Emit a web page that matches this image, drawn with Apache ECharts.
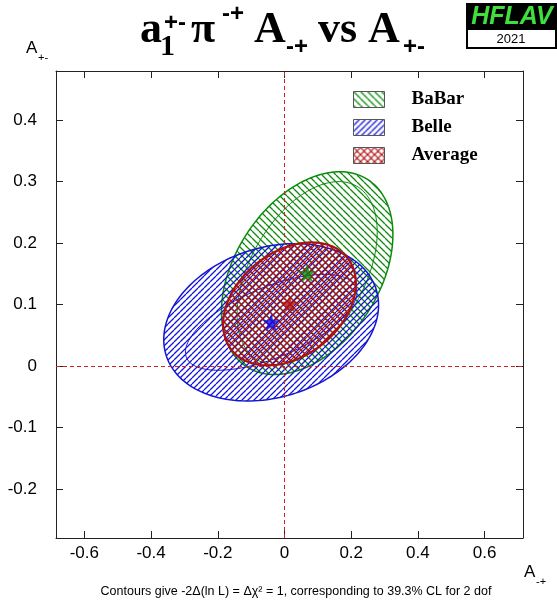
<!DOCTYPE html>
<html><head><meta charset="utf-8">
<script src="https://cdn.jsdelivr.net/npm/echarts@6/dist/echarts.min.js"></script>
<style>html,body{margin:0;padding:0;background:#fff}#c{width:557px;height:604px}</style>
</head><body><div id="c"></div>
<script>
// ---- data ----
const experiments = ['BaBar', 'Belle', 'Average'];
const centerX = [0.068, -0.040, 0.015];      // A_-+
const centerY = [0.151, 0.071, 0.101];       // A_+-
const outerSigmaX = [0.257, 0.322, 0.199];
const outerSigmaY = [0.165, 0.128, 0.100];
const outerRho = [0.38, 0.22, 0.33];
const innerSigmaX = [0.210, 0.257, null];
const innerSigmaY = [0.149, 0.078, null];
const innerRho = [0.45, 0.62, null];
const xTicks = [-0.6, -0.4, -0.2, 0, 0.2, 0.4, 0.6];
const yTicks = [-0.2, -0.1, 0, 0.1, 0.2, 0.3, 0.4];

// ---- styles ----
const lineColors = ['#0b8a0b', '#1414d4', '#b01010'];
const starColors = ['#0b8a0b', '#0a0af0', '#b01010'];
const hatchDirs = [['\\'], ['/'], ['/', '\\']];
const hatchSize = [7, 6, 7];
const hatchWidth = [1.3, 1.3, 1.2];
const outerWidth = [1.5, 1.5, 2.2];

function hatch(color, size, dirs, lw) {
  const c = document.createElement('canvas');
  c.width = c.height = size;
  const g = c.getContext('2d');
  g.strokeStyle = color; g.lineWidth = lw;
  g.beginPath();
  dirs.forEach(d => {
    for (let k = -1; k <= 1; k++) {
      if (d === '/') { g.moveTo(k * size, size); g.lineTo(k * size + size, 0); }
      else { g.moveTo(k * size, 0); g.lineTo(k * size + size, size); }
    }
  });
  g.stroke();
  return { image: c, repeat: 'repeat' };
}

function ellipsePts(api, cx, cy, sx, sy, rho) {
  const pts = [];
  const n = 160;
  const s = Math.sqrt(1 - rho * rho);
  for (let i = 0; i < n; i++) {
    const t = 2 * Math.PI * i / n;
    const x = cx + sx * Math.cos(t);
    const y = cy + sy * (rho * Math.cos(t) + s * Math.sin(t));
    pts.push(api.coord([x, y]));
  }
  return pts;
}

const font = 'Liberation Sans';
const serif = 'Liberation Serif';

const series = [];
experiments.forEach((name, i) => {
  const pattern = hatch(lineColors[i], hatchSize[i], hatchDirs[i], hatchWidth[i]);
  series.push({
    name: name,
    type: 'custom',
    coordinateSystem: 'cartesian2d',
    silent: true,
    itemStyle: { color: pattern, borderColor: '#555', borderWidth: 1 },
    encode: { x: 0, y: 1 },
    data: [[centerX[i], centerY[i], outerSigmaX[i], outerSigmaY[i], outerRho[i],
            innerSigmaX[i], innerSigmaY[i], innerRho[i]]],
    renderItem: function (params, api) {
      const cx = api.value(0), cy = api.value(1);
      const children = [{
        type: 'polygon',
        shape: { points: ellipsePts(api, cx, cy, api.value(2), api.value(3), api.value(4)) },
        style: { fill: pattern, stroke: lineColors[i], lineWidth: outerWidth[i] }
      }];
      if (innerSigmaX[i] != null) {
        children.push({
          type: 'polygon',
          shape: { points: ellipsePts(api, cx, cy, api.value(5), api.value(6), api.value(7)) },
          style: { fill: null, stroke: lineColors[i], lineWidth: 1 }
        });
      }
      return { type: 'group', children: children };
    }
  });
});

const starPath = 'path://M50,0 L61.2,34.5 L97.6,34.5 L68.2,55.9 L79.4,90.5 L50,69.1 L20.6,90.5 L31.8,55.9 L2.4,34.5 L38.8,34.5 Z';
experiments.forEach((name, i) => {
  series.push({
    type: 'scatter',
    silent: true,
    symbol: starPath,
    symbolSize: 18,
    itemStyle: { color: starColors[i] },
    data: [[centerX[i], centerY[i]]],
    z: 5
  });
});

// dashed zero lines
series.push({
  type: 'line', data: [], silent: true,
  markLine: {
    silent: true, symbol: 'none', label: { show: false },
    lineStyle: { color: '#d42020', type: [4, 3], width: 1 },
    data: [{ xAxis: 0 }, { yAxis: 0 }]
  }
});

const axisCommon = {
  type: 'value',
  axisLine: { show: true, onZero: false, lineStyle: { color: '#222', width: 1 } },
  splitLine: { show: false }
};

const option = {
  animation: false,
  backgroundColor: '#fff',
  grid: { left: 56, right: 34, top: 71, bottom: 66, containLabel: false },
  xAxis: [
    Object.assign({}, axisCommon, {
      min: -0.685, max: 0.715, position: 'bottom',
      axisTick: { inside: true, length: 7, customValues: xTicks, lineStyle: { color: '#222' } },
      axisLabel: { customValues: xTicks, margin: 7, fontSize: 17, fontFamily: font, color: '#000',
                   formatter: v => String(v) }
    }),
    Object.assign({}, axisCommon, {
      min: -0.685, max: 0.715, position: 'top',
      axisTick: { inside: true, length: 7, customValues: xTicks, lineStyle: { color: '#222' } },
      axisLabel: { show: false }
    })
  ],
  yAxis: [
    Object.assign({}, axisCommon, {
      min: -0.28, max: 0.48, position: 'left',
      axisTick: { inside: true, length: 7, customValues: yTicks, lineStyle: { color: '#222' } },
      axisLabel: { customValues: yTicks, margin: 19, fontSize: 17, fontFamily: font, color: '#000',
                   formatter: v => String(v) }
    }),
    Object.assign({}, axisCommon, {
      min: -0.28, max: 0.48, position: 'right',
      axisTick: { inside: true, length: 7, customValues: yTicks, lineStyle: { color: '#222' } },
      axisLabel: { show: false }
    })
  ],
  legend: {
    orient: 'vertical', left: 348, top: 85, itemWidth: 31, itemHeight: 16, itemGap: 9,
    selectedMode: false, icon: 'rect', data: experiments,
    itemStyle: { borderColor: '#555', borderWidth: 1 },
    textStyle: { fontFamily: serif, fontWeight: 'bold', fontSize: 19, color: '#000', padding: [0, 0, 0, 22] }
  },
  graphic: [
    // title pieces
    { type: 'text', x: 140, y: 31, style: { text: 'a', font: 'bold 44px "Liberation Serif"', fill: '#000', verticalAlign: 'middle' } },
    { type: 'text', x: 160, y: 47, style: { text: '1', font: 'bold 30px "Liberation Serif"', fill: '#000', verticalAlign: 'middle' } },
    { type: 'text', x: 164, y: 23, style: { text: '+-', font: 'bold 24px "Liberation Sans"', fill: '#000', verticalAlign: 'middle' } },
    { type: 'text', x: 191, y: 31, style: { text: 'π', font: 'bold 44px "Liberation Serif"', fill: '#000', verticalAlign: 'middle' } },
    { type: 'text', x: 222, y: 14, style: { text: '-+', font: 'bold 24px "Liberation Sans"', fill: '#000', verticalAlign: 'middle' } },
    { type: 'text', x: 254, y: 31, style: { text: 'A', font: 'bold 44px "Liberation Serif"', fill: '#000', verticalAlign: 'middle' } },
    { type: 'text', x: 286, y: 47, style: { text: '-+', font: 'bold 24px "Liberation Sans"', fill: '#000', verticalAlign: 'middle' } },
    { type: 'text', x: 318, y: 31, style: { text: 'vs A', font: 'bold 44px "Liberation Serif"', fill: '#000', verticalAlign: 'middle' } },
    { type: 'text', x: 403, y: 47, style: { text: '+-', font: 'bold 24px "Liberation Sans"', fill: '#000', verticalAlign: 'middle' } },
    // axis titles
    { type: 'text', x: 26, y: 48, style: { text: 'A', font: '17px "Liberation Sans"', fill: '#000', verticalAlign: 'middle' } },
    { type: 'text', x: 38, y: 58, style: { text: '+-', font: '11px "Liberation Sans"', fill: '#000', verticalAlign: 'middle' } },
    { type: 'text', x: 524, y: 572, style: { text: 'A', font: '17px "Liberation Sans"', fill: '#000', verticalAlign: 'middle' } },
    { type: 'text', x: 536, y: 582, style: { text: '-+', font: '11px "Liberation Sans"', fill: '#000', verticalAlign: 'middle' } },
    // footer
    { type: 'text', x: 296, y: 592, style: { text: 'Contours give -2Δ(ln L) = Δχ² = 1, corresponding to 39.3% CL for 2 dof', font: '12.5px "Liberation Sans"', fill: '#000', align: 'center', verticalAlign: 'middle' } },
    // HFLAV logo
    { type: 'rect', shape: { x: 466, y: 3, width: 91, height: 26 }, style: { fill: '#000' } },
    { type: 'text', x: 512, y: 17, style: { text: 'HFLAV', font: 'italic bold 25px "Liberation Sans"', fill: '#3ee03e', align: 'center', verticalAlign: 'middle' } },
    { type: 'rect', shape: { x: 467, y: 29, width: 89, height: 19 }, style: { fill: '#fff', stroke: '#000', lineWidth: 2 } },
    { type: 'text', x: 511, y: 39, style: { text: '2021', font: '13px "Liberation Sans"', fill: '#000', align: 'center', verticalAlign: 'middle' } }
  ],
  series: series
};

const chart = echarts.init(document.getElementById('c'), null, { renderer: 'canvas' });
chart.setOption(option);
</script>
</body></html>
